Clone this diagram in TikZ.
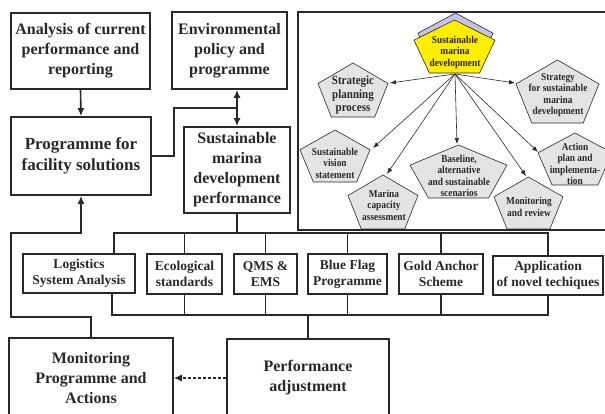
\documentclass[tikz,border=0pt]{standalone}
\usepackage{fontspec}
\setmainfont{Liberation Serif}
\newfontfamily\petalfont[FakeStretch=0.88]{Liberation Serif}
\usetikzlibrary{arrows.meta}
\definecolor{ink}{RGB}{40,40,40}
\definecolor{petal}{RGB}{228,228,228}
\definecolor{core}{RGB}{255,238,0}
\definecolor{lilac}{RGB}{198,194,228}
% pentagon by its left, right, top and bottom
\newcommand{\Pent}[5][petal]{%
  \filldraw[fill=#1,draw=ink,line width=.6pt]
  ({(#2+#3)/2},#4) -- (#3,{#4+.38*(#5-#4)}) -- ({(#2+#3)/2+.31*(#3-#2)},#5)
  -- ({(#2+#3)/2-.31*(#3-#2)},#5) -- (#2,{#4+.38*(#5-#4)}) -- cycle;}

\begin{document}
\begin{tikzpicture}[x=1pt,y=-1pt,
    box/.style={draw=ink,line width=1.6pt,align=center,text=ink,inner sep=2pt,
      font=\fontsize{16}{20}\selectfont\bfseries},
    tool/.style={box,line width=1.4pt,font=\fontsize{13.5}{16}\selectfont\bfseries},
    petaltext/.style={align=center,text=ink,inner sep=0pt,
      font=\petalfont\fontsize{10.6}{11.5}\selectfont\bfseries},
    arr/.style={draw=ink,line width=1.6pt,-{Latex[length=8pt,width=7pt]}},
    bus/.style={draw=ink,line width=2.4pt},
    drop/.style={draw=ink,line width=1.8pt},
    spoke/.style={draw=ink,line width=.6pt,-{Latex[length=6pt,width=4.5pt]}}]
  \clip (0,0) rectangle (605,414);

  % Panel of the sustainable marina development
  \draw[draw=ink,line width=1.6pt] (298,12) rectangle (640,230);
  \Pent[lilac]{418}{493}{13}{66}
  \Pent[core]{414}{495}{20}{73}
  \Pent{318}{388}{63}{117}
  \Pent{516}{599}{60}{123}
  \Pent{300}{370}{130}{182}
  \Pent{348}{418}{175}{229}
  \Pent{410}{507}{145}{198}
  \Pent{494}{563}{177}{229}
  \Pent{538}{612}{133}{185}
  \node[petaltext] (core) at (455,52) {Sustainable\\marina\\development};
  \node[petaltext,font=\petalfont\fontsize{12.5}{13.5}\selectfont\bfseries] (strat) at (353,95) {Strategic\\planning\\process};
  \node[petaltext] (strg) at (558,95) {Strategy\\for sustainable\\marina\\development};
  \node[petaltext] (vis) at (335,163) {Sustainable\\vision\\statement};
  \node[petaltext] (cap) at (384,205) {Marina\\capacity\\assessment};
  \node[petaltext] (base) at (459,176) {Baseline,\\alternative\\and sustainable\\scenarios};
  \node[petaltext] (rev) at (529,207) {Monitoring\\and review};
  \node[petaltext] (act) at (575,164) {Action\\plan and\\implementa-\\tion};

  \coordinate (hub) at (455,74);
  \coordinate (tipstrat) at (390,83);
  \coordinate (tipstrg) at (515,83);
  \coordinate (tipvis) at (373,148);
  \coordinate (tipcap) at (387,174);
  \coordinate (tipbase) at (457,144);
  \coordinate (tiprev) at (526,176);
  \coordinate (tipact) at (538,152);
  \foreach \t in {tipstrat,tipstrg,tipvis,tipcap,tipbase,tiprev,tipact}
    \draw[spoke] (hub) -- (\t);

  % Boxes of the left part
  \node[box,minimum width=139pt,minimum height=76pt] (ana) at (80.5,51) {Analysis of current\\performance and\\reporting};
  \node[box,minimum width=115pt,minimum height=77pt] (env) at (229.5,50.5) {Environmental\\policy and\\programme};
  \node[box,minimum width=140pt,minimum height=78pt,font=\fontsize{17}{21}\selectfont\bfseries] (prog) at (81,156) {Programme for\\facility solutions};
  \node[box,minimum width=106pt,minimum height=86pt] (smdp) at (237,170) {Sustainable\\marina\\development\\performance};

  % Row of tools
  \node[tool,minimum width=112pt,minimum height=39pt] (log) at (79,273.5) {Logistics\\System Analysis};
  \node[tool,minimum width=75pt,minimum height=40pt] (eco) at (184.5,274) {Ecological\\standards};
  \node[tool,minimum width=63pt,minimum height=40pt] (qms) at (265.5,274) {QMS \&\\EMS};
  \node[tool,minimum width=79pt,minimum height=40pt] (blue) at (347.5,274) {Blue Flag\\Programme};
  \node[tool,minimum width=84pt,minimum height=40pt] (gold) at (441,274) {Gold Anchor\\Scheme};
  \node[tool,minimum width=110pt,minimum height=39pt] (app) at (548,275.5) {Application\\of novel techiques};

  % Bottom boxes
  \node[box,minimum width=164pt,minimum height=80pt] (mon) at (91,378) {Monitoring\\Programme and\\Actions};
  \node[box,minimum width=162pt,minimum height=78pt] (perf) at (308,378) {Performance\\adjustment};

  % Connectors
  \draw[arr] (ana.south) -- (prog.north);
  \coordinate (knee) at (174,108);
  \coordinate (junc) at (237,108);
  \draw[draw=ink,line width=1.6pt] (prog.east) -| (knee) -- (junc);
  \draw[arr] (junc) -- (junc |- env.south);
  \draw[arr] (junc) -- (smdp.north);

  \coordinate (busTL) at (114,233);
  \coordinate (busTR) at (548,233);
  \coordinate (busBL) at (112,315);
  \coordinate (busBR) at (548,315);
  \draw[bus] (smdp.south) -- (smdp.south |- busTL);
  \draw[bus] (log.north -| busTL) -- (busTL) -- (busTR) -- (app.north);
  \draw[bus] (log.south -| busBL) -- (busBL) -- (busBR) -- (app.south);
  \foreach \b in {eco,qms,blue,gold} {
    \draw[drop] (\b.north) -- (\b.north |- busTL);
    \draw[drop] (\b.south) -- (\b.south |- busBL);
  }
  \draw[drop] (perf.north) -- (perf.north |- busBL);

  \coordinate (loopA) at (11,317);
  \coordinate (loopB) at (11,233);
  \draw[arr] (mon.north) |- (loopA) -- (loopB) -| (prog.south);
  \draw[arr,line width=1.3pt,dash pattern=on 3pt off 2pt] (perf.west) -- (mon.east);
\end{tikzpicture}
\end{document}
